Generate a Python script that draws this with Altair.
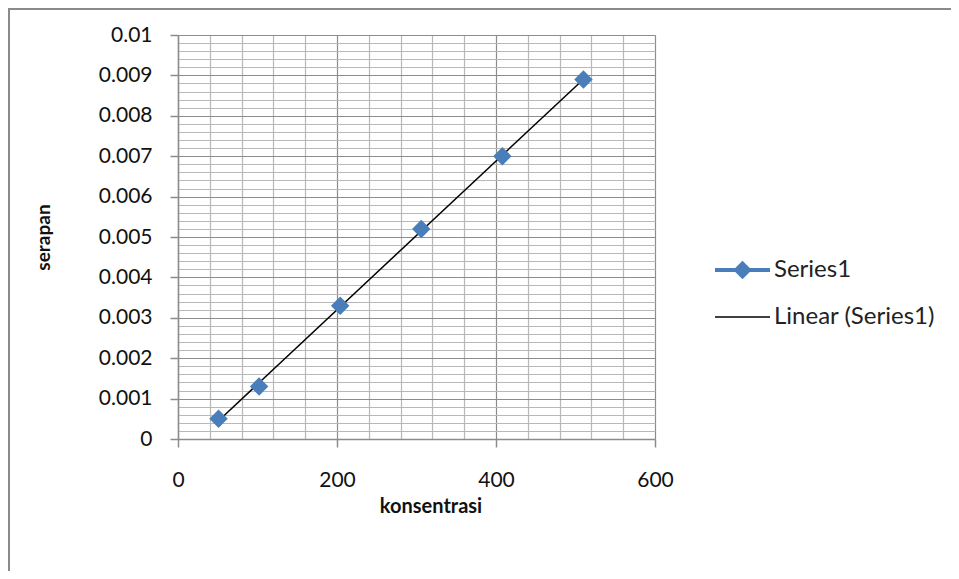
import altair as alt
import pandas as pd

konsentrasi = [51, 102, 204, 306, 408, 510]
serapan = [0.0005, 0.0013, 0.0033, 0.0052, 0.0070, 0.0089]
x_ticks = list(range(0, 601, 40))
y_ticks = [round(i * 0.0002, 4) for i in range(0, 51)]
legend_items = ["Series1", "Linear (Series1)"]

df = pd.DataFrame({"x": konsentrasi, "y": serapan})
one = pd.DataFrame({"a": [0]})

FONT = "Lato"
BLUE = "#4a7ebb"
W, H = 477, 404

xscale = alt.Scale(domain=[0, 600], nice=False, zero=True)
yscale = alt.Scale(domain=[0, 0.01], nice=False, zero=True)

x_axis = alt.Axis(
    values=x_ticks,
    tickCount=200,
    labelExpr="datum.value % 200 === 0 ? datum.label : ''",
    labelOverlap=False,
    grid=True,
    gridColor={"condition": {"test": "datum.value % 200 === 0", "value": "#8c8c8c"}, "value": "#b8b8b8"},
    gridWidth=1.2,
    tickColor={"condition": {"test": "datum.value % 200 === 0", "value": "#8c8c8c"}, "value": "transparent"},
    tickSize=8,
    tickWidth=1.5,
    domainColor="#8c8c8c",
    domainWidth=1.5,
    labelFont=FONT,
    labelFontSize=21,
    labelColor="#111111",
    labelPadding=22,
    labelFlush=False,
    title="konsentrasi",
    titleFont=FONT,
    titleFontSize=20,
    titleFontWeight="bold",
    titleColor="#111111",
    titleX=W / 2 + 14,
    titleY=67,
    titleBaseline="middle",
    titleAlign="center",
)

ycond = "abs(datum.value*1000 - round(datum.value*1000)) < 1e-6"
y_axis = alt.Axis(
    values=y_ticks,
    tickCount=200,
    labelExpr=ycond + " ? format(datum.value, '.3~f') : ''",
    labelOverlap=False,
    grid=True,
    gridColor={"condition": {"test": ycond, "value": "#8c8c8c"}, "value": "#b8b8b8"},
    gridWidth=1.2,
    tickColor={"condition": {"test": ycond, "value": "#8c8c8c"}, "value": "transparent"},
    tickSize=8,
    tickWidth=1.5,
    domainColor="#8c8c8c",
    domainWidth=1.5,
    labelFont=FONT,
    labelFontSize=21,
    labelColor="#111111",
    labelPadding=18,
    labelFlush=False,
    title="serapan",
    titleFont=FONT,
    titleFontSize=19,
    titleFontWeight="bold",
    titleColor="#111111",
    titleX=-135,
    titleY=H / 2,
    titleBaseline="middle",
    titleAlign="center",
)

base = alt.Chart(df)

points = base.mark_point(
    shape="diamond", filled=True, size=340, color=BLUE, opacity=1
).encode(
    x=alt.X("x:Q", scale=xscale, axis=x_axis),
    y=alt.Y("y:Q", scale=yscale, axis=y_axis),
)

trend = base.transform_regression("x", "y").mark_line(
    color="black", strokeWidth=1.5
).encode(x="x:Q", y="y:Q")

# outer chart frame
frame = alt.Chart(one).mark_rect(
    fill="transparent", stroke="#8a8a8a", strokeWidth=2
).encode(
    x=alt.value(-169), x2=alt.value(900), y=alt.value(-26), y2=alt.value(700)
)

# legend
lx0, lx1 = 715 - 178, 770 - 178
ly1, ly2 = 270 - 35, 317 - 35
leg_line1 = alt.Chart(one).mark_rule(color=BLUE, strokeWidth=4).encode(
    x=alt.value(lx0), x2=alt.value(lx1), y=alt.value(ly1)
)
leg_pt = alt.Chart(one).mark_point(shape="diamond", filled=True, size=340, color=BLUE, opacity=1).encode(
    x=alt.value((lx0 + lx1) / 2), y=alt.value(ly1)
)
leg_line2 = alt.Chart(one).mark_rule(color="black", strokeWidth=1.5).encode(
    x=alt.value(lx0), x2=alt.value(lx1), y=alt.value(ly2)
)
leg_t1 = alt.Chart(one).transform_calculate(t=f"'{legend_items[0]}'").mark_text(
    font=FONT, fontSize=24, align="left", baseline="middle", color="#222222"
).encode(x=alt.value(774 - 178), y=alt.value(ly1), text="t:N")
leg_t2 = alt.Chart(one).transform_calculate(t=f"'{legend_items[1]}'").mark_text(
    font=FONT, fontSize=24, align="left", baseline="middle", color="#222222"
).encode(x=alt.value(774 - 178), y=alt.value(ly2), text="t:N")

chart = alt.layer(
    trend, points, frame, leg_line1, leg_pt, leg_line2, leg_t1, leg_t2
).properties(
    width=W,
    height=H,
    autosize=alt.AutoSizeParams(type="none"),
    padding={"left": 170, "top": 27, "right": 959 - 16 - 170 - W, "bottom": 579 - 16 - 27 - H},
).configure_view(stroke=None).configure(background="white")

chart.save("out.html", embed_options={"renderer": "svg", "actions": False})
